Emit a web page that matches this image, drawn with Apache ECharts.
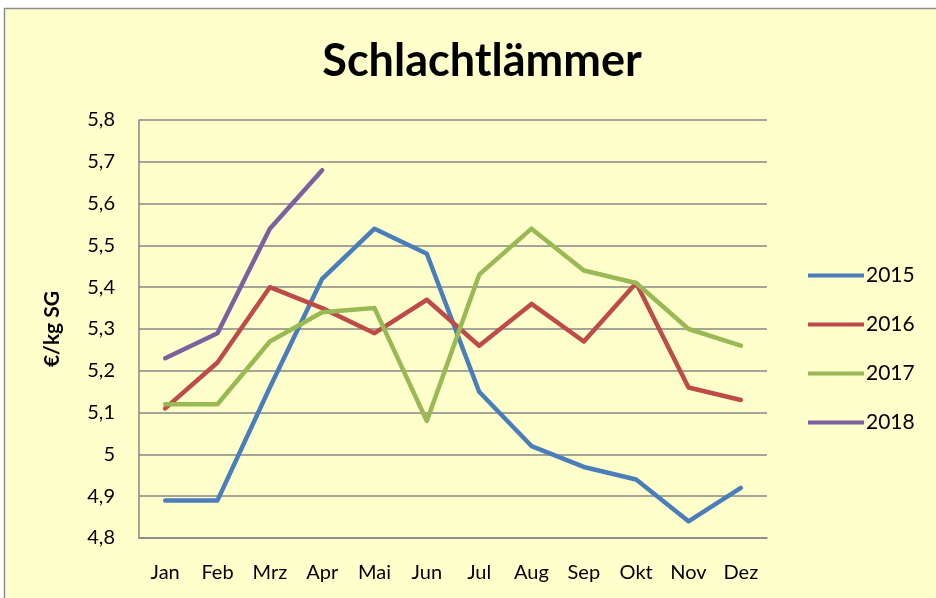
<!DOCTYPE html>
<html><head><meta charset="utf-8">
<script src="https://cdn.jsdelivr.net/npm/echarts@6/dist/echarts.min.js"></script>
<style>html,body{margin:0;padding:0;background:#fff}#c{width:936px;height:598px}</style>
</head><body><div id="c"></div>
<script>
const categories = ['Jan','Feb','Mrz','Apr','Mai','Jun','Jul','Aug','Sep','Okt','Nov','Dez'];
const s2015 = [4.89,4.89,5.16,5.42,5.54,5.48,5.15,5.02,4.97,4.94,4.84,4.92];
const s2016 = [5.11,5.22,5.40,5.35,5.29,5.37,5.26,5.36,5.27,5.41,5.16,5.13];
const s2017 = [5.12,5.12,5.27,5.34,5.35,5.08,5.43,5.54,5.44,5.41,5.30,5.26];
const s2018 = [5.23,5.29,5.54,5.68];
const seriesNames = ['2015','2016','2017','2018'];
const colors = ['#4A7EBB','#BE4B48','#98B954','#7D60A0'];
const font = 'Lato, "Open Sans", sans-serif';
const chart = echarts.init(document.getElementById('c'), null, {renderer:'canvas'});
const data = [s2015,s2016,s2017,s2018];
chart.setOption({
  backgroundColor:'#ffffff',
  animation:false,
  graphic:[{type:'rect',z:-10,shape:{x:4.5,y:8.5,width:940,height:600},style:{fill:'#FFFFCC',stroke:'#8c8c8c',lineWidth:1.5}}],
  title:{text:'Schlachtlämmer',left:477,top:34,textAlign:'center',textStyle:{fontFamily:font,fontSize:45,fontWeight:'bold',color:'#000'}},
  legend:{orient:'vertical',left:803,top:260,itemGap:28,itemWidth:56,itemHeight:4,
    icon:'path://M0,0 L56,0 L56,4 L0,4 Z',
    textStyle:{fontFamily:font,fontSize:21,color:'#000',padding:[0,0,0,-3]},data:seriesNames},
  grid:{left:139,right:169,top:120,bottom:60,containLabel:false},
  xAxis:{type:'category',data:categories,boundaryGap:true,
    axisLine:{show:true,lineStyle:{color:'#868686',width:1.5}},axisTick:{show:false},
    axisLabel:{fontFamily:font,fontSize:20,color:'#000',margin:25}},
  yAxis:{type:'value',min:4.8,max:5.8,interval:0.1,
    name:'€/kg SG',nameLocation:'middle',nameGap:76,nameRotate:90,
    nameTextStyle:{fontFamily:font,fontSize:21,fontWeight:'bold',color:'#000'},
    axisLine:{show:true,lineStyle:{color:'#868686',width:1.5}},axisTick:{show:false},
    splitLine:{lineStyle:{color:'#868686',width:1.5}},
    axisLabel:{fontFamily:font,fontSize:20,color:'#000',margin:24,
      formatter:v=>String(Math.round(v*10)/10).replace('.',',')}},
  series:data.map((d,i)=>({name:seriesNames[i],type:'line',data:d,symbol:'none',
    lineStyle:{color:colors[i],width:4.5,cap:'round',join:'round'},itemStyle:{color:colors[i]}}))
});
</script></body></html>
